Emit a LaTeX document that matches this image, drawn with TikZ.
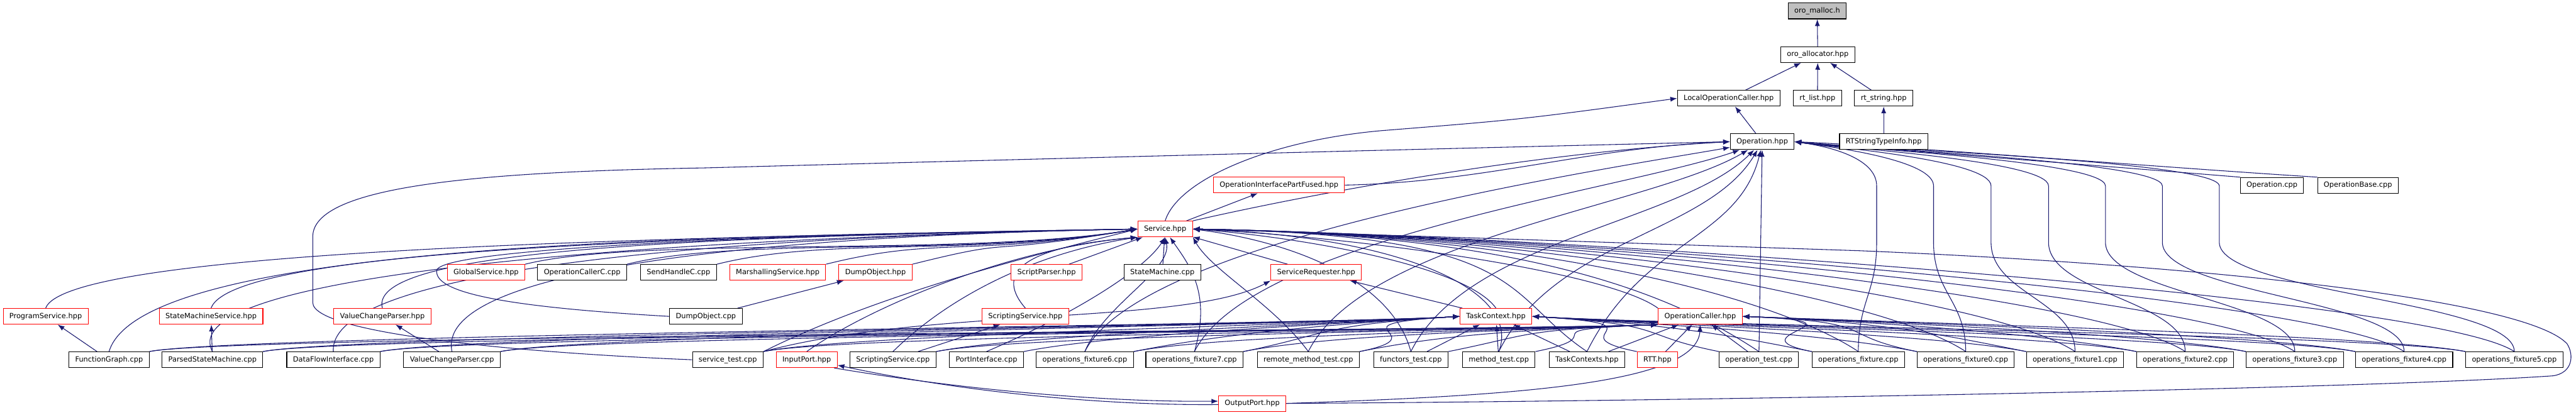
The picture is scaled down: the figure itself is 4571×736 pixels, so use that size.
\documentclass[tikz,border=0pt]{standalone}
\usepackage{fontspec}
\setmainfont{DejaVu Sans}
\usetikzlibrary{arrows.meta,backgrounds}
\definecolor{edgeblue}{RGB}{25,25,112}

\begin{document}
\begin{tikzpicture}[x=1pt, y=1pt,
    file/.style={draw=black, fill=white, line width=1.2pt, minimum height=28pt, inner xsep=11pt, inner ysep=0pt, font=\fontsize{12.7}{15}\selectfont},
    redfile/.style={file, draw=red},
    rootfile/.style={file, fill=gray!50},
    edge/.style={draw=edgeblue, line width=1.2pt, -{Latex[length=12pt,width=9pt]}}]
    \useasboundingbox (0,0) rectangle (4571,-736);

    \node[rootfile] (malloc) at (3224.5,-19.5) {oro\_malloc.h};
    \node[file] (alloc) at (3225.5,-97) {oro\_allocator.hpp};
    \node[file] (loc) at (3067.5,-174.5) {LocalOperationCaller.hpp};
    \node[file] (rtlist) at (3225,-174.5) {rt\_list.hpp};
    \node[file] (rtstr) at (3342.5,-174.5) {rt\_string.hpp};
    \node[file] (op) at (3127,-251.5) {Operation.hpp};
    \node[file] (rtsti) at (3342.5,-251.5) {RTStringTypeInfo.hpp};
    \node[redfile] (oipf) at (2269.5,-328.5) {OperationInterfacePartFused.hpp};
    \node[file] (opcpp) at (4031.5,-329) {Operation.cpp};
    \node[file] (opbase) at (4184,-329) {OperationBase.cpp};
    \node[redfile] (srv) at (2067.5,-406.5) {Service.hpp};

    \node[redfile] (globsvc) at (862.5,-483.5) {GlobalService.hpp};
    \node[file] (opcallc) at (1033,-483.5) {OperationCallerC.cpp};
    \node[file] (sendhc) at (1204,-483.5) {SendHandleC.cpp};
    \node[redfile] (marsh) at (1380,-483.5) {MarshallingService.hpp};
    \node[redfile] (dumph) at (1553.5,-483.5) {DumpObject.hpp};
    \node[redfile] (scrparse) at (1857,-483.5) {ScriptParser.hpp};
    \node[file] (smcpp) at (2062.5,-483.5) {StateMachine.cpp};
    \node[redfile] (svcreq) at (2335.5,-483.5) {ServiceRequester.hpp};

    \node[redfile] (progsvc) at (81,-561.5) {ProgramService.hpp};
    \node[redfile] (smsvc) at (374.5,-561.5) {StateMachineService.hpp};
    \node[redfile] (vcph) at (678.5,-561.5) {ValueChangeParser.hpp};
    \node[file] (dumpcpp) at (1252.5,-561.5) {DumpObject.cpp};
    \node[redfile] (scrsvch) at (1819.5,-561.5) {ScriptingService.hpp};
    \node[redfile] (tc) at (2654.5,-561.5) {TaskContext.hpp};
    \node[redfile] (opc) at (3017,-561.5) {OperationCaller.hpp};

    \node[file] (funcg) at (193.5,-638.5) {FunctionGraph.cpp};
    \node[file] (psm) at (377,-638.5) {ParsedStateMachine.cpp};
    \node[file] (dfi) at (591.5,-638.5) {DataFlowInterface.cpp};
    \node[file] (vcpcpp) at (802,-638.5) {ValueChangeParser.cpp};
    \node[file] (svctest) at (1291.5,-638.5) {service\_test.cpp};
    \node[redfile] (inport) at (1431.5,-638.5) {InputPort.hpp};
    \node[file] (scrsvcc) at (1584.5,-638.5) {ScriptingService.cpp};
    \node[file] (portif) at (1750.5,-638.5) {PortInterface.cpp};
    \node[file] (fix6) at (1925,-638.5) {operations\_fixture6.cpp};
    \node[file] (fix7) at (2119.5,-638.5) {operations\_fixture7.cpp};
    \node[file] (rmtest) at (2321.5,-638.5) {remote\_method\_test.cpp};
    \node[file] (functest) at (2503.5,-638.5) {functors\_test.cpp};
    \node[file] (mtest) at (2659.5,-638.5) {method\_test.cpp};
    \node[file] (tcs) at (2816,-638.5) {TaskContexts.hpp};
    \node[redfile] (rtt) at (2941,-638.5) {RTT.hpp};
    \node[file] (optest) at (3121,-638.5) {operation\_test.cpp};
    \node[file] (fix) at (3297.5,-638.5) {operations\_fixture.cpp};
    \node[file] (fix0) at (3488,-638.5) {operations\_fixture0.cpp};
    \node[file] (fix1) at (3682,-638.5) {operations\_fixture1.cpp};
    \node[file] (fix2) at (3877.5,-638.5) {operations\_fixture2.cpp};
    \node[file] (fix3) at (4072,-638.5) {operations\_fixture3.cpp};
    \node[file] (fix4) at (4266,-638.5) {operations\_fixture4.cpp};
    \node[file] (fix5) at (4461.5,-638.5) {operations\_fixture5.cpp};
    \node[redfile] (outport) at (2222,-716) {OutputPort.hpp};

    \begin{scope}[on background layer]
    \draw[edge] (alloc) -- (malloc);
    \foreach \c in {loc,rtlist,rtstr} \draw[edge] (\c) -- (alloc);
    \draw[edge] (rtsti) -- (rtstr);
    \draw[edge] (op) -- (loc);
    \draw[edge] (srv.north) .. controls (2090,-320) and (2250,-250) .. (2450,-232) .. controls (2700,-212) .. (loc.west);
    \draw[edge] (srv.north east) .. controls (2300,-350) and (2700,-272) .. (op.west);
    \draw[edge] (srv) -- (oipf);
    \draw[edge] (oipf.east) .. controls +(250,5) and +(-250,-10) .. (op.west);
    \draw[edge] (svctest.west) .. controls (900,-625) and (555,-590) .. (555,-537) -- (555,-420) .. controls (555,-330) and (850,-305) .. (1250,-298) .. controls (2100,-275) and (2800,-258) .. (op.west);
    \foreach \c/\a/\bx/\by in {fix6/-170/-230/-40,fix7/-160/-200/-70,rmtest/-150/-170/-100,functest/-135/-130/-130,mtest/-120/-90/-150,tcs/-100/-40/-160}
        \draw[edge] (\c.north) .. controls +(100,200) and +(\bx,\by) .. (op.\a);
    \draw[edge] (optest) -- (op);
    \foreach \c/\v in {fix/3330,fix0/3431,fix1/3533,fix2/3635,fix3/3736,fix4/3837,fix5/3938}
        \draw[edge] (\c.north) .. controls +(0,90) and (\v,-520) .. (\v,-430) -- (\v,-330) .. controls (\v,-285) and (3260,-262) .. (op.east);
    \draw[edge] (opcpp.north west) .. controls (3700,-292) and (3350,-265) .. (op.east);
    \draw[edge] (opbase.north west) .. controls (3850,-298) and (3380,-260) .. (op.east);

    \foreach \c in {globsvc,opcallc,sendhc,marsh,dumph}
        \draw[edge] (\c.north east) .. controls +(200,50) and +(-300,-50) .. (srv.west);
    \foreach \c/\dx/\h in {progsvc/40/110,smsvc/40/110,vcph/-30/110,funcg/60/200,psm/-80/150,dfi/-10/150,vcpcpp/-30/140}
        \draw[edge] (\c.north) .. controls +(\dx,\h) and (1300,-420) .. (srv.west);
    \draw[edge] (dumpcpp.west) .. controls (900,-545) and (770,-520) .. (775,-480) .. controls (780,-440) and (1400,-415) .. (srv.west);
    \draw[edge] (scrsvch.north) .. controls (1770,-490) and (1800,-440) .. (srv.south west);
    \draw[edge] (svctest.north east) .. controls +(200,100) and +(-200,-50) .. (srv.west);
    \draw[edge] (inport.north) .. controls (1550,-540) and (1800,-440) .. (srv.south west);
    \draw[edge] (scrsvcc.north) .. controls (1680,-530) and (1830,-450) .. (srv.south west);
    \draw[edge] (portif.north) .. controls (1900,-560) and (2030,-480) .. (srv.south);
    \draw[edge] (fix6.north) .. controls (1960,-540) and (2080,-480) .. (srv.south);
    \draw[edge] (fix7.north) .. controls (2150,-520) and (2110,-470) .. (srv.-60);
    \draw[edge] (rmtest.north) .. controls (2260,-540) and (2150,-480) .. (srv.south east);
    \foreach \c in {scrparse,smcpp,svcreq} \draw[edge] (\c) -- (srv);
    \draw[edge] (tc.north) .. controls (2600,-470) and (2300,-420) .. (srv.east);
    \draw[edge] (opc.north west) .. controls (2850,-480) and (2400,-420) .. (srv.east);
    \draw[edge] (functest.north) .. controls (2470,-500) and (2300,-430) .. (srv.east);
    \draw[edge] (mtest.north) .. controls (2700,-520) and (2500,-420) .. (srv.east);
    \foreach \c in {tcs,optest,fix,fix0,fix1,fix2,fix3,fix4,fix5}
        \draw[edge] (\c.north) .. controls +(-150,100) and +(600,-10) .. (srv.east);
    \draw[edge] (outport.east) .. controls (3000,-712) and (4200,-690) .. (4530,-667) .. controls (4565,-662) and (4568,-630) .. (4555,-610) .. controls (4480,-530) and (3900,-470) .. (3300,-445) .. controls (2700,-425) .. (srv.east);

    \foreach \c/\p in {funcg/progsvc,psm/smsvc,vcpcpp/vcph,dumpcpp/dumph,scrsvcc/scrsvch,tc/svcreq}
        \draw[edge] (\c) -- (\p);
    \draw[edge] (svctest.north east) .. controls +(300,80) and +(-150,-80) .. (svcreq.south west);

    \foreach \c in {funcg,psm,dfi,vcpcpp,svctest,scrsvcc,portif,fix6,fix7,rmtest}
        \draw[edge] (\c.north east) .. controls +(150,30) and +(-250,-15) .. (tc.west);
    \foreach \c in {functest,mtest,tcs} \draw[edge] (\c) -- (tc);
    \foreach \c in {rtt,optest,fix,fix0,fix1,fix2,fix3,fix4,fix5}
        \draw[edge] (\c.north west) .. controls +(-150,30) and +(250,-15) .. (tc.east);

    \foreach \c in {funcg,psm,dfi,vcpcpp,svctest,scrsvcc,fix6,fix7,rmtest,functest,mtest}
        \draw[edge] (\c.north east) .. controls +(150,30) and +(-250,-10) .. (opc.south west);
    \foreach \c in {tcs,rtt,optest} \draw[edge] (\c) -- (opc);
    \foreach \c in {fix,fix0,fix1,fix2,fix3,fix4,fix5}
        \draw[edge] (\c.north west) .. controls +(-150,30) and +(250,-10) .. (opc.east);

    \draw[edge] (outport.east) .. controls (2700,-702) and (3012,-680) .. (opc.south);
    \draw[edge] ([xshift=-6pt]inport.south east) .. controls (1700,-690) and (1950,-714) .. ([yshift=4pt]outport.west);
    \draw[edge] ([yshift=-2pt]outport.west) .. controls (1950,-720) and (1700,-694) .. (inport.-10);
    \end{scope}
\end{tikzpicture}
\end{document}
